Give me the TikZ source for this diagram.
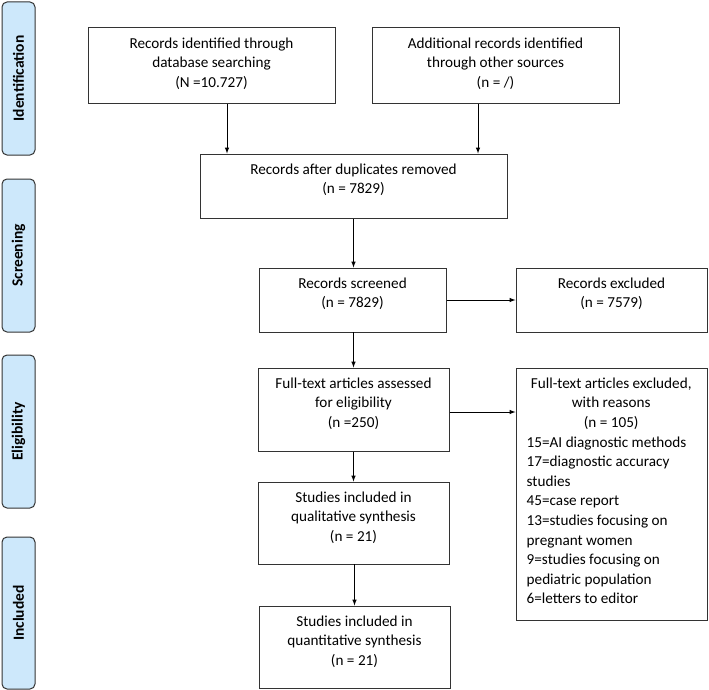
\documentclass[tikz,border=0pt]{standalone}
\usepackage{fontspec}
\setmainfont{Carlito}
\definecolor{phase}{HTML}{CDE8FB}
\definecolor{edge}{HTML}{333333}
\begin{document}
\begin{tikzpicture}[x=1pt,y=-1pt,
	box/.style={draw=edge, line width=1pt, inner sep=0pt},
	boxtext/.style={anchor=north, align=center, inner sep=0pt, font=\fontsize{15.2}{19.6}\selectfont},
	phasebox/.style={draw=edge, fill=phase, line width=1pt, rounded corners=5pt,
		minimum width=33pt, inner sep=0pt},
	phasetext/.style={rotate=90, font=\fontsize{15.5}{18}\selectfont\bfseries}]
	\useasboundingbox (0,0) rectangle (709,690);
	% phase labels
	\node[phasebox, minimum height=153pt] (ident) at (18.5,78.5) {};
	\node[phasetext] (identt) at (ident) {Identification};
	\node[phasebox, minimum height=153pt] (screen) at (18.5,255.5) {};
	\node[phasetext] (screent) at (screen) {Screening};
	\node[phasebox, minimum height=153pt] (elig) at (18.5,431.5) {};
	\node[phasetext] (eligt) at (elig) {Eligibility};
	\node[phasebox, minimum height=152pt] (incl) at (18.5,613) {};
	\node[phasetext] (inclt) at (incl) {Included};
	% boxes
	\node[box, minimum width=247pt, minimum height=76pt] (db) at (211.5,66) {};
	\node[boxtext] (dbt) at ([yshift=-10pt]db.north) {Records identified through\\database searching\\(N =10.727)};
	\node[box, minimum width=247pt, minimum height=76pt] (other) at (495.5,66) {};
	\node[boxtext] (othert) at ([yshift=-10pt]other.north) {Additional records identified\\through other sources\\(n = /)};
	\node[box, minimum width=307pt, minimum height=64pt] (dup) at (353.5,186) {};
	\node[boxtext] (dupt) at ([yshift=-10pt]dup.north) {Records after duplicates removed\\(n = 7829)};
	\node[box, minimum width=187pt, minimum height=64pt] (screened) at (352.5,300) {};
	\node[boxtext] (screenedt) at ([yshift=-10pt]screened.north) {Records screened\\(n = 7829)};
	\node[box, minimum width=191pt, minimum height=64pt] (excl) at (611.5,300) {};
	\node[boxtext] (exclt) at ([yshift=-10pt]excl.north) {Records excluded\\(n = 7579)};
	\node[box, minimum width=191pt, minimum height=83pt] (full) at (353.5,409.5) {};
	\node[boxtext] (fullt) at ([yshift=-10pt]full.north) {Full-text articles assessed\\for eligibility\\(n =250)};
	\node[box, minimum width=191pt, minimum height=252pt] (reasons) at (611.5,494) {};
	\node[boxtext, align=left] (reasonst) at ([xshift=11pt,yshift=-10pt]reasons.north west) [anchor=north west]
		{\makebox[169pt]{Full-text articles excluded,}\\\makebox[169pt]{with reasons}\\\makebox[169pt]{(n = 105)}\\
		15=AI diagnostic methods\\17=diagnostic accuracy\\studies\\45=case report\\13=studies focusing on\\
		pregnant women\\9=studies focusing on\\pediatric population\\6=letters to editor};
	\node[box, minimum width=191pt, minimum height=82pt] (qual) at (353.5,523) {};
	\node[boxtext] (qualt) at ([yshift=-10pt]qual.north) {Studies included in\\qualitative synthesis\\(n = 21)};
	\node[box, minimum width=191pt, minimum height=82pt] (quant) at (354.5,647) {};
	\node[boxtext] (quantt) at ([yshift=-10pt]quant.north) {Studies included in\\quantitative synthesis\\(n = 21)};
	% arrows
	\draw[-latex, line width=1pt] ([xshift=15.5pt]db.south) -- ([xshift=15.5pt]db.south |- dup.north);
	\draw[-latex, line width=1pt] ([xshift=-17.5pt]other.south) -- ([xshift=-17.5pt]other.south |- dup.north);
	\draw[-latex, line width=1pt] (dup.south) -- (dup.south |- screened.north);
	\draw[-latex, line width=1pt] (screened.east) -- (excl.west);
	\draw[-latex, line width=1pt] (screened.south) -- (screened.south -| full.north) -- (full.north);
	\draw[-latex, line width=1pt] ([yshift=-2.5pt]full.east) -- ([yshift=-2.5pt]full.east -| reasons.west);
	\draw[-latex, line width=1pt] (full.south) -- (qual.north);
	\draw[-latex, line width=1pt] (qual.south) -- (qual.south -| quant.north) -- (quant.north);
\end{tikzpicture}
\end{document}
